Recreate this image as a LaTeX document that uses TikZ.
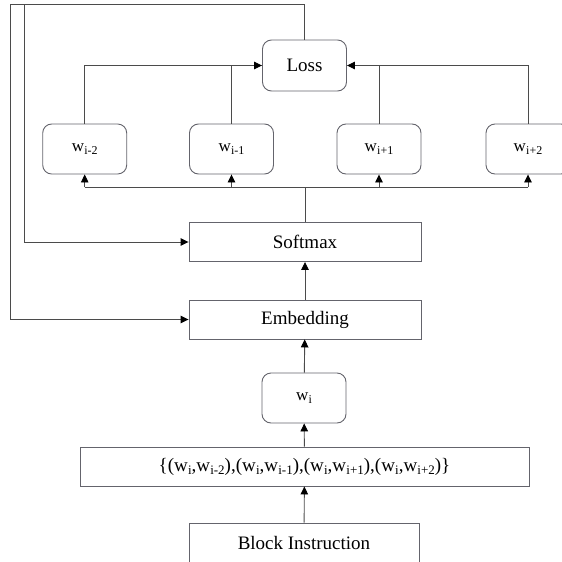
\documentclass[tikz,border=0pt]{standalone}
\usepackage{fontspec}
\setmainfont{Liberation Serif}
\usetikzlibrary{arrows.meta}

% w with a lowered index in a smaller size
\newcommand\wsub[2][12]{w\kern0.2pt\raisebox{-3pt}{\fontsize{#1}{#1}\selectfont #2}}

\definecolor{linegray}{RGB}{75,75,75}
\definecolor{boxgray}{RGB}{100,100,108}

\tikzset{
  plainbox/.style={draw=boxgray, line width=0.9pt, minimum width=232pt, minimum height=39pt,
    inner sep=0pt, font=\fontsize{19}{22}\selectfont},
  roundbox/.style={draw=boxgray, line width=0.9pt, rounded corners=9pt, minimum width=84pt,
    minimum height=50pt, inner sep=0pt, font=\fontsize{17}{19}\selectfont},
  link/.style={draw=linegray, line width=0.9pt},
  arr/.style={link, -{Triangle[length=8pt,width=7.5pt,color=black]}},
}

\begin{document}
\begin{tikzpicture}[x=1pt, y=-1pt]
  \useasboundingbox (0,0) rectangle (562,562);
  \clip (0,0) rectangle (562,562);

  % context words and the loss
  \node[roundbox, minimum height=51pt, font=\fontsize{19}{22}\selectfont] (loss) at (304.5,65.5) {Loss};
  \node[roundbox] (wm2) at (84.7,149) {\wsub{i-2}};
  \node[roundbox] (wm1) at (231.5,149) {\wsub{i-1}};
  \node[roundbox] (wp1) at (379,149) {\wsub{i+1}};
  \node[roundbox] (wp2) at (528,149) {\wsub{i+2}};

  % main stack
  \node[plainbox] (soft) at (305,242) {Softmax};
  \node[plainbox] (emb) at (305,319.5) {Embedding};
  \node[roundbox] (wi) at (304,398) {\wsub{i}};
  \node[plainbox, minimum width=449pt, font=\fontsize{19}{22}\selectfont] (pairs) at (304.5,466.5)
    {\{(\wsub[13]{i},\wsub[13]{i-2}),(\wsub[13]{i},\wsub[13]{i-1}),(\wsub[13]{i},\wsub[13]{i+1}),(\wsub[13]{i},\wsub[13]{i+2})\}};
  \node[plainbox, minimum width=230pt, minimum height=40pt] (block) at (304,543) {Block Instruction};

  % helper points
  \coordinate (bus) at (305,187);
  \coordinate (topO) at (10.7,4.5);
  \coordinate (topI) at (24.3,4.5);

  % upward flow
  \draw[arr] (block) -- (pairs);
  \draw[arr] (pairs) -- (wi);
  \draw[arr] (wi) -- (emb);
  \draw[arr] (emb) -- (soft);

  % softmax fans out to the context words
  \draw[link] (soft.north) -- (soft.north |- bus);
  \draw[link] (wm2.south |- bus) -- (wp2.south |- bus);
  \draw[arr] (wm2.south |- bus) -- (wm2.south);
  \draw[arr] (wm1.south |- bus) -- (wm1.south);
  \draw[arr] (wp1.south |- bus) -- (wp1.south);
  \draw[arr] (wp2.south |- bus) -- (wp2.south);

  % context words into the loss
  \draw[arr] (wm2.north) |- (loss.west);
  \draw[link] (wm1.north) -- (wm1.north |- loss.west);
  \draw[arr] (wp2.north) |- (loss.east);
  \draw[link] (wp1.north) -- (wp1.north |- loss.east);

  % feedback from the loss
  \draw[arr] (loss.north) |- (topO) |- (emb.west);
  \draw[arr] (topI) |- (soft.west);
\end{tikzpicture}
\end{document}
